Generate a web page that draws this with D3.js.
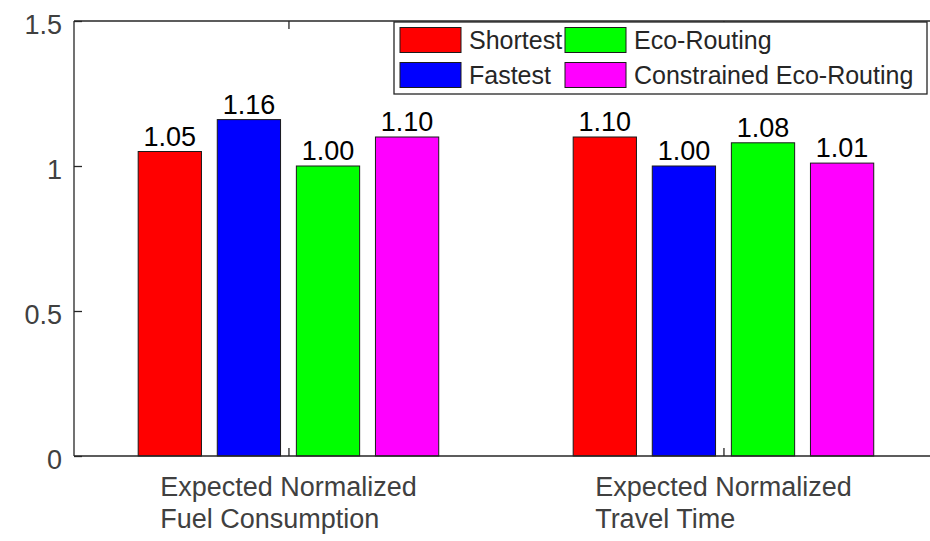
<!DOCTYPE html>
<html>
<head>
<meta charset="utf-8">
<script src="https://cdn.jsdelivr.net/npm/d3@7"></script>
<style>
  html, body { margin: 0; padding: 0; background: #fff; }
  svg { display: block; font-family: "Liberation Sans", Arial, sans-serif; }
</style>
</head>
<body>
<svg id="chart" width="930" height="541"></svg>
<script>
// ---- data ----
const categories = [
  ["Expected Normalized", "Fuel Consumption"],
  ["Expected Normalized", "Travel Time"]
];
const seriesNames = ["Shortest", "Fastest", "Eco-Routing", "Constrained Eco-Routing"];
const seriesColors = ["#ff0000", "#0000ff", "#00ff00", "#ff00ff"];
const shortest = [1.05, 1.10];
const fastest = [1.16, 1.00];
const ecoRouting = [1.00, 1.08];
const constrainedEco = [1.10, 1.01];
const seriesValues = [shortest, fastest, ecoRouting, constrainedEco];
const yTicks = [0, 0.5, 1, 1.5];
const xTicks = [1, 2];

// ---- layout ----
const plotLeft = 74, plotTop = 21, plotBottom = 456;
const svg = d3.select("#chart");

const x = d3.scaleLinear().domain([0.507, 2.5]).range([plotLeft, plotLeft + 1.993 * 435]);
const y = d3.scaleLinear().domain([0, 1.5]).range([plotBottom, plotTop]);

const nS = seriesNames.length;
const groupW = Math.min(0.8, nS / (nS + 1.5));
const slot = groupW / nS;
const barW = slot * 0.8;

const axisColor = "#262626";
const tickTextColor = "#404040";

// bars
seriesValues.forEach((vals, si) => {
  const g = svg.append("g");
  g.selectAll("rect").data(vals).join("rect")
    .attr("x", (d, i) => x(xTicks[i] + (si - (nS - 1) / 2) * slot - barW / 2))
    .attr("width", () => x(barW) - x(0))
    .attr("y", d => y(d))
    .attr("height", d => y(0) - y(d))
    .attr("fill", seriesColors[si])
    .attr("stroke", "#1a1a1a")
    .attr("stroke-width", 1);
  g.selectAll("text").data(vals).join("text")
    .attr("x", (d, i) => x(xTicks[i] + (si - (nS - 1) / 2) * slot))
    .attr("y", d => y(d) - 6)
    .attr("text-anchor", "middle")
    .attr("font-size", 27)
    .attr("fill", "#000")
    .text(d => d.toFixed(2));
});

// axes frame
const xr = x.range();
const frame = svg.append("g").attr("stroke", axisColor).attr("stroke-width", 1.3).attr("fill", "none");
frame.append("line").attr("x1", xr[0]).attr("x2", xr[1]).attr("y1", y(0)).attr("y2", y(0));
frame.append("line").attr("x1", xr[0]).attr("x2", xr[1]).attr("y1", y(1.5)).attr("y2", y(1.5));
frame.append("line").attr("x1", xr[0]).attr("x2", xr[0]).attr("y1", y(0)).attr("y2", y(1.5));

// y ticks (inside)
const yAxis = d3.axisLeft(y).tickValues(yTicks).tickSizeInner(-8).tickSizeOuter(0).tickPadding(12)
  .tickFormat(d => d3.format("")(d));
const yg = svg.append("g").attr("transform", `translate(${xr[0]},0)`).call(yAxis);
yg.select(".domain").remove();
yg.selectAll(".tick line").attr("stroke", axisColor).attr("stroke-width", 1.3);
yg.selectAll(".tick text")
  .attr("font-size", 27).attr("fill", tickTextColor)
  .attr("font-family", "Liberation Sans, Arial, sans-serif")
  .attr("dy", "0.45em");

// x ticks (inside, bottom and top)
const xAxis = d3.axisBottom(x).tickValues(xTicks).tickSizeInner(-8).tickSizeOuter(0).tickFormat("");
const xg = svg.append("g").attr("transform", `translate(0,${y(0)})`).call(xAxis);
xg.select(".domain").remove();
xg.selectAll(".tick line").attr("stroke", axisColor).attr("stroke-width", 1.3);
const xAxisTop = d3.axisTop(x).tickValues(xTicks).tickSizeInner(-8).tickSizeOuter(0).tickFormat("");
const xgt = svg.append("g").attr("transform", `translate(0,${y(1.5)})`).call(xAxisTop);
xgt.select(".domain").remove();
xgt.selectAll(".tick line").attr("stroke", axisColor).attr("stroke-width", 1.3);

// x category labels (two lines, left-aligned block centered on first line)
categories.forEach((lines, i) => {
  const tmp = svg.append("text").attr("font-size", 27).text(lines[0]);
  const w = tmp.node().getComputedTextLength();
  tmp.remove();
  const t = svg.append("text")
    .attr("font-size", 27).attr("fill", tickTextColor)
    .attr("text-anchor", "start");
  lines.forEach((ln, li) => {
    t.append("tspan")
      .attr("x", x(xTicks[i]) - w / 2)
      .attr("y", plotBottom + 40 + li * 32)
      .text(ln);
  });
});

// legend
const lg = svg.append("g");
const lgX = 394, lgY = 22, lgW = 533, lgH = 72;
lg.append("rect").attr("x", lgX).attr("y", lgY).attr("width", lgW).attr("height", lgH)
  .attr("fill", "#fff").attr("stroke", axisColor).attr("stroke-width", 1.3);
const colX = [400, 565];
const rowY = [40, 75];
seriesNames.forEach((name, si) => {
  const col = Math.floor(si / 2), row = si % 2;
  lg.append("rect")
    .attr("x", colX[col]).attr("y", rowY[row] - 12.5)
    .attr("width", 61).attr("height", 25)
    .attr("fill", seriesColors[si]).attr("stroke", "#1a1a1a").attr("stroke-width", 1);
  lg.append("text")
    .attr("x", colX[col] + 69).attr("y", rowY[row])
    .attr("dy", "0.36em")
    .attr("font-size", 25).attr("fill", "#262626")
    .text(name);
});
</script>
</body>
</html>
